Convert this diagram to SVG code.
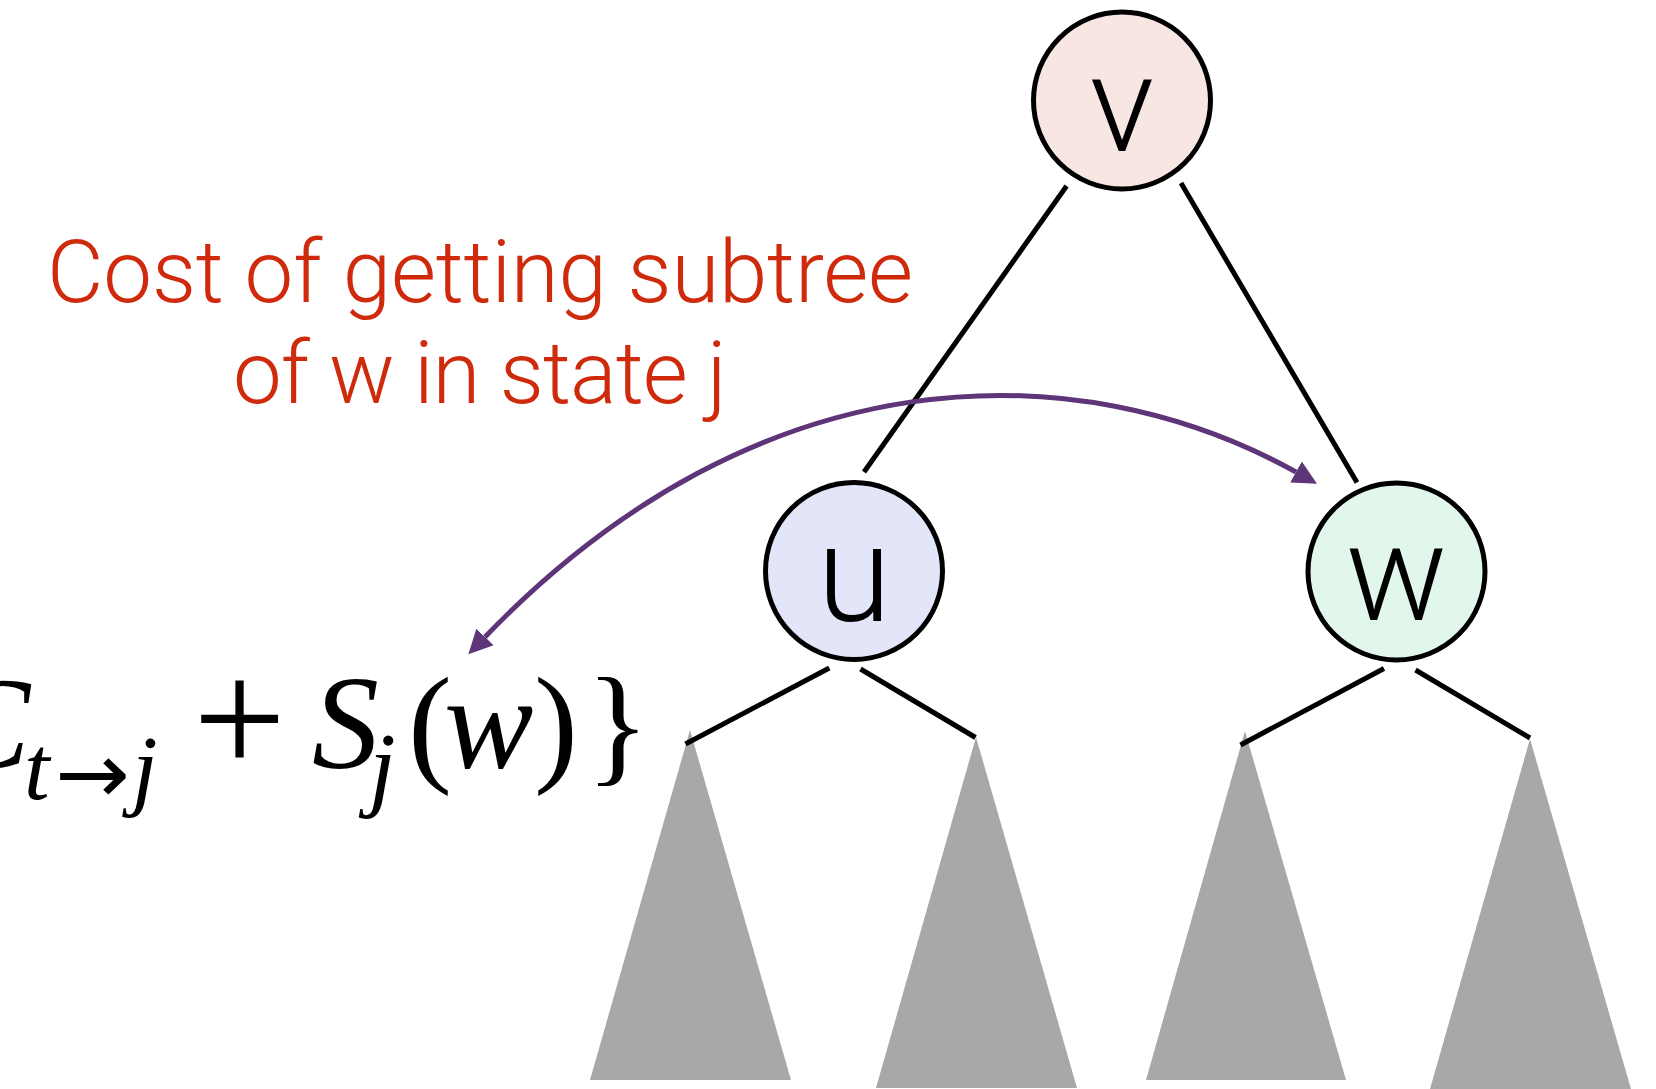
<svg xmlns="http://www.w3.org/2000/svg" width="1656" height="1089" viewBox="0 0 1656 1089">
<style>
.node circle{stroke:#000;stroke-width:5}
.lbl{font-family:Roboto,"Liberation Sans",sans-serif;font-weight:300;font-size:135px;text-anchor:middle;fill:#000}
.edge{stroke:#000;stroke-width:5;fill:none}
.tri{fill:#A6A9A8}
.note{font-family:Roboto,"Liberation Sans",sans-serif;font-weight:300;font-size:87px;fill:#CF2A0C;text-anchor:middle}
.math{font-family:"Liberation Serif","Times New Roman",serif;fill:#000}
.it{font-style:italic}
.arc{stroke:#5D3578;stroke-width:5;fill:none}
</style>
<defs>
<marker id="ah" viewBox="0 -12 24 24" refX="0" refY="0" markerWidth="24" markerHeight="24" markerUnits="userSpaceOnUse" orient="auto-start-reverse">
<path d="M0,-12 L24,0 L0,12 z" fill="#5D3578"/>
</marker>
</defs>
<rect width="1656" height="1089" fill="#fff"/>
<g id="subtrees">
<polygon class="tri" points="690,730 590,1080 791,1080"/>
<polygon class="tri" points="976,737 876,1088 1077,1088"/>
<polygon class="tri" points="1245,731 1146,1080 1346,1080"/>
<polygon class="tri" points="1530,739 1430,1089 1631,1089"/>
</g>
<g id="connectors">
<line class="edge" x1="1066.6" y1="186" x2="864" y2="472"/>
<line class="edge" x1="1181" y1="183" x2="1357" y2="482.6"/>
<line class="edge" x1="829.3" y1="668" x2="685.5" y2="744"/>
<line class="edge" x1="860.5" y1="669" x2="975.5" y2="737.5"/>
<line class="edge" x1="1384" y1="668.5" x2="1240.5" y2="745"/>
<line class="edge" x1="1415.5" y1="670" x2="1530" y2="738"/>
<path class="arc" d="M485,637 C760,351 1078,351 1296,472" marker-start="url(#ah)" marker-end="url(#ah)"/>
</g>
<g id="node-v" class="node">
<circle cx="1122" cy="100.5" r="88.5" fill="#F8E6E3"/>
<text class="lbl" x="1122" y="150.5">v</text>
</g>
<g id="node-u" class="node">
<circle cx="854" cy="571" r="88.5" fill="#E3E6F8"/>
<text class="lbl" x="854" y="621">u</text>
</g>
<g id="node-w" class="node">
<circle cx="1396.5" cy="571.5" r="88.5" fill="#E2F7EC"/>
<text class="lbl" x="1396.5" y="620">w</text>
</g>
<g id="annotation">
<text class="note" x="480" y="302" textLength="866" lengthAdjust="spacing">Cost of getting subtree</text>
<text class="note" x="480" y="403" textLength="494" lengthAdjust="spacing">of w in state j</text>
</g>
<g id="formula" class="math">
<text x="-58" y="768" font-size="132" class="it">C</text>
<text x="24" y="799" font-size="92" class="it">t</text>
<text x="55" y="803" font-size="85" font-family="DejaVu Sans, sans-serif" textLength="75" lengthAdjust="spacingAndGlyphs">→</text>
<text x="132" y="799" font-size="92" class="it">j</text>
<text x="193" y="774" font-size="165">+</text>
<text x="312" y="768" font-size="134" class="it">S</text>
<text x="369" y="799" font-size="96" class="it">j</text>
<text x="408" y="768" font-size="132">(</text>
<text x="444" y="768" font-size="134" class="it">w</text>
<text x="534" y="768" font-size="132">)</text>
<text x="586" y="768" font-size="132">}</text>
</g>
</svg>
